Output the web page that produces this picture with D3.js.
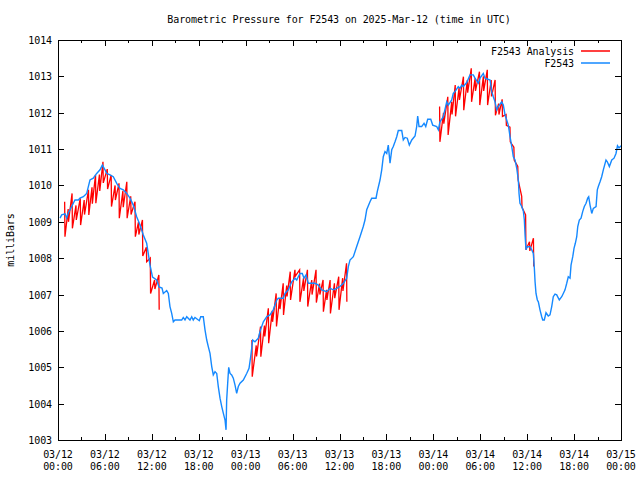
<!DOCTYPE html>
<html><head><meta charset="utf-8">
<script src="https://cdn.jsdelivr.net/npm/d3@7"></script>
<style>
body{margin:0;background:#fff}
text{font-family:"DejaVu Sans Mono","Liberation Mono",monospace;font-size:10px;letter-spacing:-0.1px;fill:#000}
</style>
</head><body><svg id="c" width="640" height="480"></svg>
<script>
const chartTitle = "Barometric Pressure for F2543 on 2025-Mar-12 (time in UTC)";
const yAxisLabel = "milliBars";
const seriesNames = ["F2543 Analysis", "F2543"];
const seriesColors = ["#ff0000", "#1589ff"];
const yTickValues = [1003,1004,1005,1006,1007,1008,1009,1010,1011,1012,1013,1014];
const xMajorTickHours = [0,6,12,18,24,30,36,42,48,54,60,66,72];
const xMinorTickHours = [3,9,15,21,27,33,39,45,51,57,63,69];
const startUTC = Date.UTC(2025, 2, 12, 0, 0);

// F2543 observations: hours since 03/12 00:00 UTC, pressure (mb)
const obsHours = [0.26,0.47,0.90,1.11,1.32,1.53,1.75,1.96,2.17,2.60,
2.81,3.24,3.67,3.88,4.09,4.51,4.95,5.37,5.67,6.01,
6.23,6.65,7.07,7.51,7.93,8.35,8.79,9.21,9.63,10.06,
10.49,10.91,11.34,11.77,12.09,12.62,12.92,13.30,13.47,13.90,
14.11,14.32,14.54,14.75,14.96,15.82,16.02,16.24,16.46,16.88,
17.10,17.30,17.52,18.07,18.25,18.58,18.80,19.02,19.22,19.44,
19.66,19.86,20.08,20.30,20.50,20.72,20.94,21.14,21.36,21.49,
21.57,21.70,21.83,22.00,22.21,22.42,22.64,22.85,23.06,23.28,
23.70,24.13,24.43,24.64,24.90,25.19,25.62,25.83,26.26,26.69,
27.11,27.53,27.97,28.17,28.81,29.03,29.45,29.89,30.31,30.53,
30.73,30.95,31.24,31.46,31.72,32.01,32.87,33.29,33.72,34.36,
34.79,35.21,35.64,36.06,36.49,36.92,37.13,37.34,37.77,38.20,
38.62,39.04,39.26,39.48,39.90,40.12,40.67,40.83,41.18,41.40,
41.60,41.82,42.04,42.24,42.46,42.68,42.88,43.10,43.32,43.52,
43.96,44.16,44.38,44.67,44.93,45.24,45.66,45.87,46.00,46.17,
46.51,46.81,47.03,47.28,47.67,47.92,48.43,48.64,48.85,49.28,
49.71,49.92,50.35,50.55,50.77,51.19,51.41,51.63,51.83,52.27,
52.69,53.11,53.33,53.75,53.97,54.39,54.61,55.25,55.47,55.67,
55.89,56.10,56.31,56.74,56.95,57.17,57.38,57.59,57.81,58.03,
58.23,58.45,58.66,58.87,58.96,59.08,59.30,59.51,59.64,59.73,
59.85,59.94,60.36,60.58,60.79,60.92,61.01,61.13,61.30,61.43,
61.64,61.86,61.99,62.19,62.41,62.70,62.92,63.14,63.34,63.56,
63.78,64.11,64.42,64.62,64.84,65.06,65.26,65.48,65.61,65.83,
65.99,66.16,66.34,66.47,66.67,66.89,67.10,67.31,67.53,67.74,
67.87,68.04,68.26,68.46,68.81,68.97,69.10,69.32,69.53,69.74,
70.08,70.25,70.51,70.82,71.11,71.36,71.55,71.75,72.00];
const obsPressure = [1009.10,1009.19,1009.22,1009.10,1009.25,1009.33,1009.42,1009.51,1009.60,1009.60,
1009.65,1009.69,1009.78,1009.97,1010.15,1010.20,1010.33,1010.43,1010.56,1010.43,
1010.33,1010.29,1010.24,1010.06,1009.92,1009.88,1009.78,1009.65,1009.46,1009.14,
1008.91,1008.64,1008.41,1007.81,1007.48,1007.40,1007.21,1007.18,1007.03,1007.11,
1007.03,1006.67,1006.48,1006.25,1006.30,1006.30,1006.37,1006.30,1006.39,1006.30,
1006.39,1006.30,1006.37,1006.28,1006.39,1006.39,1006.03,1005.75,1005.57,1005.38,
1005.02,1004.79,1004.88,1004.83,1004.47,1004.15,1003.92,1003.74,1003.55,1003.28,
1004.10,1004.56,1005.00,1004.83,1004.79,1004.70,1004.51,1004.28,1004.47,1004.56,
1004.65,1004.83,1004.97,1005.29,1005.75,1005.70,1005.80,1005.98,1006.25,1006.39,
1006.44,1006.58,1006.85,1006.90,1006.90,1007.03,1007.13,1007.35,1007.45,1007.40,
1007.49,1007.58,1007.58,1007.45,1007.54,1007.31,1007.31,1007.26,1007.13,1007.08,
1007.17,1007.13,1007.17,1007.22,1007.31,1007.45,1007.77,1007.95,1008.04,1008.32,
1008.59,1008.87,1009.05,1009.33,1009.55,1009.65,1009.65,1009.83,1010.15,1010.43,
1010.79,1010.93,1010.88,1011.11,1010.61,1010.98,1011.07,1011.20,1011.34,1011.51,
1011.51,1011.25,1011.32,1011.30,1011.11,1011.25,1011.36,1011.62,1011.91,1011.62,
1011.62,1011.71,1011.62,1011.82,1011.82,1011.66,1011.62,1011.53,1011.75,1011.89,
1012.30,1012.21,1012.35,1012.53,1012.58,1012.72,1012.67,1012.76,1012.72,1012.83,
1013.04,1013.04,1012.95,1012.81,1012.95,1013.08,1012.95,1012.90,1012.58,1012.44,
1012.30,1012.08,1012.17,1012.30,1012.21,1011.94,1011.80,1011.66,1011.34,1011.07,
1010.79,1010.70,1010.48,1010.15,1009.78,1009.51,1009.42,1009.30,1009.05,1008.64,
1008.23,1008.31,1008.32,1008.23,1008.13,1007.72,1007.35,1007.03,1006.85,1006.80,
1006.58,1006.39,1006.30,1006.30,1006.50,1006.41,1006.44,1006.67,1006.94,1007.01,
1006.99,1006.85,1006.94,1007.03,1007.13,1007.31,1007.49,1007.45,1007.81,1008.04,
1008.27,1008.41,1008.59,1008.87,1009.05,1009.10,1009.28,1009.42,1009.51,1009.65,
1009.69,1009.46,1009.23,1009.37,1009.42,1009.88,1009.97,1010.10,1010.24,1010.43,
1010.70,1010.65,1010.52,1010.70,1010.75,1010.88,1011.09,1011.03,1011.09];

// F2543 Analysis: three runs; at each time the value jumps from high to low
const analysisRunHours = [
 [0.85,1.3,1.8,2.3,2.85,3.35,3.9,4.35,4.8,5.3,5.75,6.3,6.8,7.3,7.8,8.3,8.8,9.3,9.85,10.3,10.8,11.3,11.8,12.35,12.9],
 [24.8,25.35,25.9,26.4,26.9,27.4,27.9,28.35,28.8,29.25,29.7,30.3,30.9,31.4,31.9,32.45,33.0,33.45,33.9,34.35,34.8,35.35,35.9,36.4,36.9],
 [48.8,49.3,49.85,50.35,50.8,51.3,51.85,52.35,52.85,53.35,53.9,54.4,54.9,55.4,55.9,56.35,56.8,57.3,57.8,58.3,58.8,59.3,59.8,60.3,60.8]
];
const analysisRunHigh = [
 [1009.55,1009.35,1009.78,1009.45,1009.65,1009.60,1009.88,1009.95,1010.29,1010.30,1010.65,1010.45,1010.29,1010.00,1010.06,1009.85,1010.10,1009.70,1009.55,1009.00,1009.05,1008.30,1008.00,1007.40,1007.54],
 [1005.75,1005.60,1006.12,1006.15,1006.62,1006.55,1007.03,1006.90,1007.31,1007.25,1007.63,1007.68,1007.68,1007.45,1007.68,1007.40,1007.68,1007.30,1007.40,1007.13,1007.40,1007.31,1007.49,1007.45,1007.86],
 [1012.17,1012.00,1012.44,1012.30,1012.76,1012.70,1012.99,1012.90,1013.22,1012.95,1013.13,1013.00,1013.18,1012.90,1012.90,1012.25,1012.37,1011.95,1011.60,1011.05,1010.52,1009.70,1009.19,1008.45,1008.55]
];
const analysisRunLow = [
 [1008.59,1009.00,1008.82,1009.05,1008.91,1009.20,1009.19,1009.50,1009.51,1009.85,1010.07,1009.90,1009.42,1009.60,1009.10,1009.40,1009.10,1009.20,1008.59,1008.65,1008.06,1007.90,1007.03,1007.15,1006.58],
 [1004.74,1005.30,1005.29,1005.85,1005.66,1006.25,1006.12,1006.60,1006.44,1006.95,1006.85,1007.50,1006.80,1007.10,1006.67,1007.00,1006.78,1007.00,1006.53,1006.85,1006.48,1006.90,1006.58,1007.10,1006.80],
 [1011.20,1011.70,1011.39,1011.95,1011.90,1012.35,1012.07,1012.55,1012.30,1012.60,1012.21,1012.60,1012.21,1012.45,1011.93,1011.95,1011.90,1011.65,1011.20,1010.70,1010.15,1009.40,1008.23,1008.20,1007.77]
];

const toDate = h => new Date(startUTC + h * 3600000);
const svg = d3.select("#c");
const L = 58, R = 621, T = 40, B = 440;
const x = d3.scaleUtc().domain([toDate(0), toDate(72)]).range([L, R]);
const y = d3.scaleLinear().domain([1003, 1014]).range([B, T]);

// title
svg.append("text").attr("x", 339).attr("y", 23).attr("text-anchor", "middle").text(chartTitle);
// y label
svg.append("text").attr("transform", "translate(14,240) rotate(-90)").attr("text-anchor", "middle").text(yAxisLabel);

// data lines
const line = d3.line().x(d => x(toDate(d[0]))).y(d => y(d[1]));
const gPlot = svg.append("g");
analysisRunHours.forEach((hrs, r) => {
  const pts = [];
  hrs.forEach((h, i) => {
    pts.push([h, analysisRunHigh[r][i]]);
    pts.push([h + 0.04, analysisRunLow[r][i]]);
  });
  gPlot.append("path").attr("d", line(pts)).attr("fill", "none")
    .attr("stroke", seriesColors[0]).attr("stroke-width", 1.3);
});
const obs = obsHours.map((h, i) => [h, obsPressure[i]]);
gPlot.append("path").attr("d", line(obs)).attr("fill", "none")
  .attr("stroke", seriesColors[1]).attr("stroke-width", 1.4);

// axes (gnuplot style, ticks inward, mirrored)
const axisG = svg.append("g").attr("stroke", "#000").attr("stroke-width", 1).attr("shape-rendering", "crispEdges");
const yAxisL = d3.axisLeft(y).tickValues(yTickValues).tickSize(0).tickPadding(6).tickFormat(d3.format("d"));
const gyl = svg.append("g").attr("transform", `translate(${L},0)`).call(yAxisL);
gyl.select(".domain").remove();
gyl.selectAll("text").attr("dy", "0.35em").attr("font-family", null).attr("font-size", null);
const yAxisTicksL = d3.axisRight(y).tickValues(yTickValues).tickSize(6).tickFormat("");
axisG.append("g").attr("transform", `translate(${L},0)`).call(yAxisTicksL).select(".domain").remove();
const yAxisTicksR = d3.axisLeft(y).tickValues(yTickValues).tickSize(6).tickFormat("");
axisG.append("g").attr("transform", `translate(${R},0)`).call(yAxisTicksR).select(".domain").remove();

const fmtDay = d3.utcFormat("%m/%d"), fmtTime = d3.utcFormat("%H:%M");
const majorDates = xMajorTickHours.map(toDate), minorDates = xMinorTickHours.map(toDate);
const xb = d3.axisTop(x).tickValues(majorDates).tickSize(6).tickFormat("");
axisG.append("g").attr("transform", `translate(0,${B})`).call(xb).select(".domain").remove();
const xbm = d3.axisTop(x).tickValues(minorDates).tickSize(3).tickFormat("");
axisG.append("g").attr("transform", `translate(0,${B})`).call(xbm).select(".domain").remove();
const xt = d3.axisBottom(x).tickValues(majorDates).tickSize(6).tickFormat("");
axisG.append("g").attr("transform", `translate(0,${T})`).call(xt).select(".domain").remove();
const xtm = d3.axisBottom(x).tickValues(minorDates).tickSize(3).tickFormat("");
axisG.append("g").attr("transform", `translate(0,${T})`).call(xtm).select(".domain").remove();
axisG.selectAll("line").attr("stroke", "#000");

// x labels (two lines)
const xl = svg.append("g");
majorDates.forEach(d => {
  const t = xl.append("text").attr("x", x(d)).attr("y", 458).attr("text-anchor", "middle");
  t.append("tspan").attr("x", x(d)).text(fmtDay(d));
  t.append("tspan").attr("x", x(d)).attr("dy", 12).text(fmtTime(d));
});

// frame
svg.append("rect").attr("x", L + 0.5).attr("y", T + 0.5).attr("width", R - L).attr("height", B - T)
  .attr("fill", "none").attr("stroke", "#000").attr("stroke-width", 1);

// legend
const leg = svg.append("g");
seriesNames.forEach((n, i) => {
  const yy = 51 + i * 12;
  leg.append("text").attr("x", 574).attr("y", yy).attr("dy", "0.35em").attr("text-anchor", "end").text(n);
  leg.append("line").attr("x1", 581).attr("x2", 610).attr("y1", yy).attr("y2", yy)
    .attr("stroke", seriesColors[i]).attr("stroke-width", 1.5);
});
</script>
</body></html>
